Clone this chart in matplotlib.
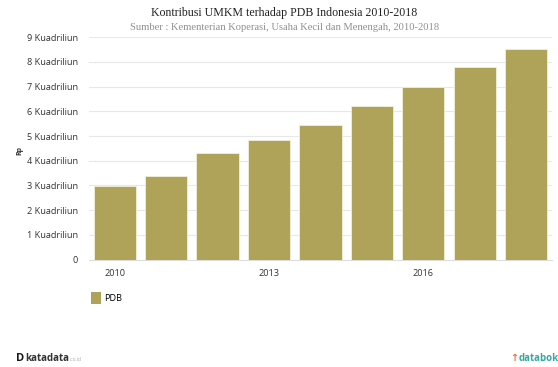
import matplotlib
matplotlib.use("Agg")
import matplotlib.pyplot as plt
from matplotlib.patches import Patch

# data (Rp kuadriliun)
years = [2010, 2011, 2012, 2013, 2014, 2015, 2016, 2017, 2018]
pdb = [2.98, 3.39, 4.31, 4.86, 5.43, 6.20, 7.00, 7.81, 8.53]
shown_years = [2010, 2013, 2016]
ytick_vals = [0, 1, 2, 3, 4, 5, 6, 7, 8, 9]
ytick_labels = ["0"] + [f"{v} Kuadriliun" for v in ytick_vals[1:]]

bar_color = "#afa35a"
sans = "Open Sans"
serif = "Liberation Serif"

fig = plt.figure(figsize=(5.58, 3.67), dpi=100)
ax = fig.add_axes([0.1595, 0.2929, 0.8295, 0.6055])

x = list(range(len(years)))
ax.bar(x, pdb, width=0.82, color=bar_color, edgecolor="#f3efd9", linewidth=0.6, zorder=3)

ax.set_xlim(-0.5, len(years) - 0.5)
ax.set_ylim(0, 9)
ax.set_yticks(ytick_vals)
ax.set_yticklabels(ytick_labels, fontsize=6.6, family=sans, color="#333333")
ax.set_xticks([years.index(y) for y in shown_years])
ax.set_xticklabels([str(y) for y in shown_years], fontsize=6.6, family=sans, color="#333333")
ax.tick_params(axis="both", length=0)
ax.tick_params(axis="y", pad=8)
ax.tick_params(axis="x", pad=6.5)

ax.grid(axis="y", color="#e8e8e8", linewidth=0.8, zorder=0)
for s in ["top", "right", "left"]:
    ax.spines[s].set_visible(False)
ax.spines["bottom"].set_color("#dddddd")
ax.spines["bottom"].set_linewidth(0.8)

fig.text(0.035, 0.59, "Rp", rotation=90, fontsize=5, fontweight="bold", family=sans,
         ha="center", va="center", color="#333333")

# titles
fig.text(0.51, 0.965, "Kontribusi UMKM terhadap PDB Indonesia 2010-2018",
         fontsize=8.6, family=serif, ha="center", va="center", color="#222222")
fig.text(0.51, 0.925, "Sumber : Kementerian Koperasi, Usaha Kecil dan Menengah, 2010-2018",
         fontsize=7.6, family=serif, ha="center", va="center", color="#8f8f8f")

# legend
fig.legend(handles=[Patch(facecolor=bar_color, label="PDB")], loc="center left",
           bbox_to_anchor=(0.148, 0.187), frameon=False,
           prop={"family": sans, "size": 6.6}, handlelength=1.1, handleheight=1.6,
           handletextpad=0.4)

# footer logos as text
fig.text(0.028, 0.024, "D", fontsize=8, fontweight="bold", family=sans, color="#1a1a1a",
         ha="left", va="center")
fig.text(0.045, 0.024, "katadata", fontsize=7, fontweight="bold", family=sans, color="#333333",
         ha="left", va="center")
fig.text(0.125, 0.021, ".co.id", fontsize=3.5, family=sans, color="#aaaaaa",
         ha="left", va="center")
fig.text(0.915, 0.024, "\u2191", fontsize=7, fontweight="bold", family="DejaVu Sans",
         color="#e8743b", ha="left", va="center")
fig.text(0.93, 0.024, "databok", fontsize=7, fontweight="bold", family=sans, color="#3aa79f",
         ha="left", va="center")

fig.savefig("out.png", dpi=100)
